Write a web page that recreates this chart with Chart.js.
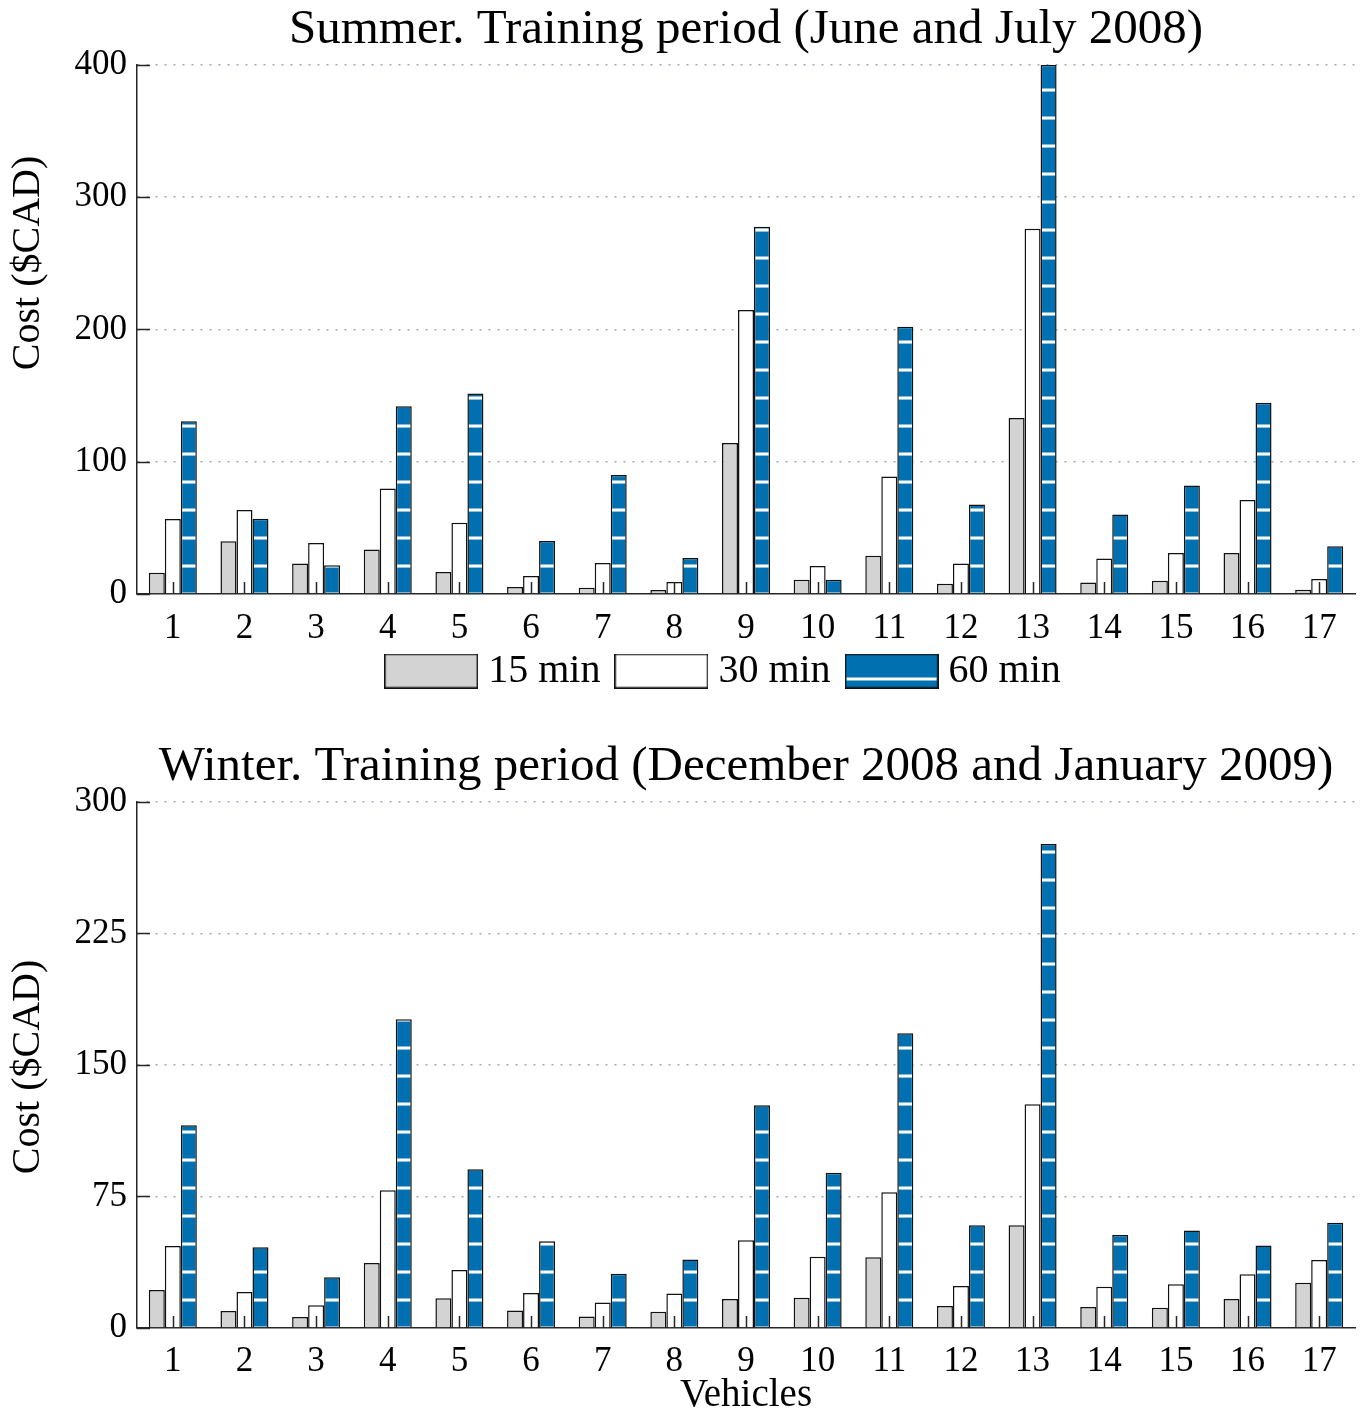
<!DOCTYPE html>
<html><head><meta charset="utf-8">
<script src="https://cdn.jsdelivr.net/npm/chart.js@4"></script>
<style>
body{margin:0;background:#fff;}
canvas{position:absolute;left:0;display:block;}
</style>
</head><body>
<canvas id="c1" width="1360" height="718" style="top:0"></canvas>
<canvas id="c2" width="1360" height="697" style="top:718px"></canvas>
<script>
// ---------- data ----------
const vehicles = ['1','2','3','4','5','6','7','8','9','10','11','12','13','14','15','16','17'];
const seriesNames = ['15 min','30 min','60 min'];
const summer15 = [16.1, 39.9, 23, 33.6, 16.7, 5.3, 4.8, 3, 114.2, 10.8, 29, 7.8, 133, 8.6, 10, 31, 3.3];
const summer30 = [56.6, 63.4, 38.6, 79.8, 53.8, 13.6, 23.5, 9, 214.6, 21.1, 88.9, 23, 276, 26.8, 31, 71, 11.4];
const summer60 = [130.5, 56.8, 21.7, 141.9, 151.5, 40, 90, 27.3, 277.6, 10.8, 202, 67.7, 400, 60, 82, 144.6, 36];
const winter15 = [21.6, 9.7, 6.3, 37, 17, 10, 6.5, 9.3, 16.5, 17.3, 40.4, 12.5, 58.6, 12, 11.5, 16.6, 25.8];
const winter30 = [46.7, 20.5, 13, 78.6, 33, 20, 14.5, 19.6, 50, 40.6, 77.4, 24, 127.5, 23.5, 25, 30.7, 38.7];
const winter60 = [115.6, 46, 29, 176, 90.5, 49.5, 31, 39, 127, 88.5, 168, 58.6, 276, 53, 55.6, 47, 60];
const summerTicks = [0, 100, 200, 300, 400];
const winterTicks = [0, 75, 150, 225, 300];

// ---------- styles ----------
const FONT = "'Liberation Serif', 'DejaVu Serif', serif";
const GRAY = '#d3d3d3', WHITE = '#ffffff', BLUE = '#0070b0', EDGE = '#111111';
const STRIPE_PERIOD = 28;

function makeStripePattern() {
  const t = document.createElement('canvas');
  t.width = 4; t.height = STRIPE_PERIOD;
  const g = t.getContext('2d');
  g.fillStyle = BLUE; g.fillRect(0, 0, 4, STRIPE_PERIOD);
  g.fillStyle = '#ffffff'; g.fillRect(0, 0, 4, 3);
  return g.createPattern(t, 'repeat');
}

function legendSwatch(fill, stripe) {
  const c = document.createElement('canvas');
  c.width = 94; c.height = 35;
  const g = c.getContext('2d');
  g.fillStyle = fill; g.fillRect(0, 0, 94, 35);
  if (stripe) { g.fillStyle = '#ffffff'; g.fillRect(2, 24, 90, 3); }
  g.strokeStyle = EDGE; g.lineWidth = 1.5; g.strokeRect(0.75, 0.75, 92.5, 33.5);
  return c;
}

const stripePlugin = {
  id: 'stripes',
  beforeDatasetsDraw(chart) {
    const p = chart.canvas.$pattern;
    if (!p) return;
    const y0 = chart.scales.y.getPixelForValue(0);
    p.setTransform(new DOMMatrix([1, 0, 0, 1, 0, y0 - 1.5]));
  }
};

const decoPlugin = {
  id: 'deco',
  beforeDraw(chart, args, opts) {
    const lg = chart.legend;
    if (lg && (opts.legendShiftX || opts.legendShiftY) && chart.$shiftedFor !== lg.left) {
      lg.left += opts.legendShiftX; lg.right += opts.legendShiftX;
      lg.top += opts.legendShiftY; lg.bottom += opts.legendShiftY;
      chart.$shiftedFor = lg.left;
    }
  },
  afterDraw(chart, args, opts) {
    const ctx = chart.ctx, x = chart.scales.x, y = chart.scales.y;
    const ca = chart.chartArea;
    ctx.save();
    ctx.strokeStyle = '#262626'; ctx.lineWidth = 1.5;
    ctx.beginPath();
    for (let i = 0; i < x.ticks.length; i++) {
      const px = Math.round(x.getPixelForTick(i)) + 0.5;
      ctx.moveTo(px, ca.bottom); ctx.lineTo(px, ca.bottom - 12);
    }
    for (let i = 0; i < y.ticks.length; i++) {
      const py = Math.round(y.getPixelForTick(i)) + 0.5;
      ctx.moveTo(ca.left, py); ctx.lineTo(ca.left + 13, py);
    }
    ctx.stroke();
    ctx.fillStyle = '#000';
    ctx.font = opts.titleFont;
    ctx.textAlign = 'center'; ctx.textBaseline = 'middle';
    ctx.translate(opts.titleX, opts.titleY);
    ctx.rotate(-Math.PI / 2);
    ctx.fillText(opts.yTitle, 0, 0);
    ctx.restore();
  }
};

function buildChart(id, title, d15, d30, d60, ticks, cfg) {
  const canvas = document.getElementById(id);
  const ctx = canvas.getContext('2d');
  const pattern = makeStripePattern();
  canvas.$pattern = pattern;
  const swatches = [legendSwatch(GRAY, false), legendSwatch(WHITE, false), legendSwatch(BLUE, true)];
  const common = { borderColor: EDGE, borderWidth: 1.5, categoryPercentage: 0.67, barPercentage: 1.0, borderSkipped: 'start' };
  return new Chart(ctx, {
    type: 'bar',
    data: {
      labels: vehicles,
      datasets: [
        Object.assign({ label: seriesNames[0], data: d15, backgroundColor: GRAY }, common),
        Object.assign({ label: seriesNames[1], data: d30, backgroundColor: WHITE }, common),
        Object.assign({ label: seriesNames[2], data: d60, backgroundColor: pattern }, common)
      ]
    },
    options: {
      responsive: false,
      animation: false,
      layout: { padding: { left: 0, right: 5, top: 0, bottom: 0 } },
      plugins: {
        title: { display: true, fullSize: false, text: title, color: '#000', font: { family: FONT, size: 49, weight: 'normal', lineHeight: 1.2 }, padding: cfg.titlePad },
        legend: {
          display: cfg.legend, position: 'bottom',
          labels: {
            usePointStyle: true, pointStyleWidth: 74, padding: 24, color: '#000',
            font: { family: FONT, size: 40 },
            generateLabels: () => seriesNames.map((n, i) => ({ text: n, pointStyle: swatches[i], datasetIndex: i, fillStyle: 'transparent', strokeStyle: 'transparent', lineWidth: 0, fontColor: '#000' }))
          },
          onClick: null
        },
        tooltip: { enabled: false },
        deco: { yTitle: 'Cost ($CAD)', titleFont: '40px ' + FONT, titleX: 28, titleY: cfg.yTitleY, legendShiftX: cfg.legendShiftX || 0, legendShiftY: cfg.legendShiftY || 0 }
      },
      scales: {
        x: {
          z: 1,
          grid: { display: false, drawTicks: false },
          border: { display: true, color: '#262626', width: 1.5 },
          ticks: { color: '#000', font: { family: FONT, size: 35 }, padding: cfg.xPad, maxRotation: 0, autoSkip: false },
          title: { display: !!cfg.xTitle, text: cfg.xTitle || '', color: '#000', font: { family: FONT, size: 39, lineHeight: 1.0 }, padding: { top: 0, bottom: 0 } },
          afterFit: s => { s.height = cfg.xHeight; }
        },
        y: {
          z: 1,
          min: ticks[0], max: ticks[ticks.length - 1],
          afterBuildTicks: s => { s.ticks = ticks.map(v => ({ value: v })); },
          grid: {
            drawTicks: false, lineWidth: 1.5,
            color: c => (c.tick && c.tick.value === 0) ? 'rgba(0,0,0,0)' : '#9ea9ba'
          },
          border: { display: true, color: '#262626', width: 1.5, dash: [2, 7], dashOffset: 0 },
          ticks: { color: '#000', font: { family: FONT, size: 35 }, padding: 10 },
          afterFit: s => { s.width = 137; }
        }
      }
    },
    plugins: [stripePlugin, decoPlugin]
  });
}

const chartSummer = buildChart('c1', 'Summer. Training period (June and July 2008)', summer15, summer30, summer60, summerTicks,
  { legend: true, titlePad: { top: 1, bottom: 5 }, xPad: 14, xHeight: 50, yTitleY: 263, legendShiftX: 50, legendShiftY: -17 });
const chartWinter = buildChart('c2', 'Winter. Training period (December 2008 and January 2009)', winter15, winter30, winter60, winterTicks,
  { legend: false, titlePad: { top: 20, bottom: 5 }, xPad: 13, xHeight: 87, xTitle: 'Vehicles', yTitleY: 349 });
</script>
</body></html>
